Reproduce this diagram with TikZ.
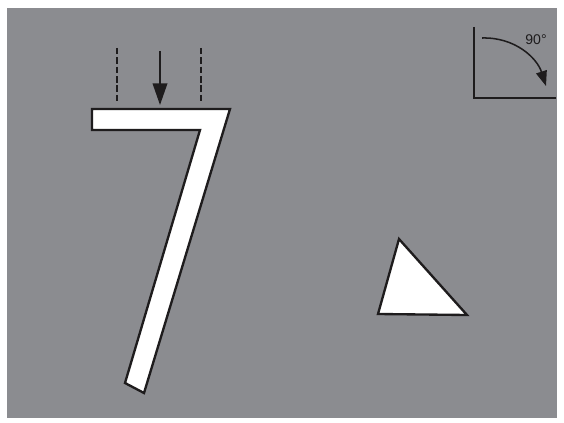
\documentclass[tikz,border=0pt]{standalone}
\usepackage{fontspec}
\setsansfont{Liberation Sans}
\usetikzlibrary{arrows.meta}
\definecolor{panelgray}{RGB}{139,140,144}
\definecolor{inkdark}{RGB}{30,28,29}

\begin{document}
\begin{tikzpicture}[x=0.03cm,y=-0.03cm,
  piece/.style={fill=white, draw=inkdark, line width=2pt, line join=miter},
  guide/.style={draw=inkdark, line width=1.3pt, dash pattern=on 5.5pt off 2.5pt},
  push/.style={-{Triangle[length=6.5mm,width=4.4mm]}, draw=inkdark, line width=1.4pt},
  axis/.style={draw=inkdark, line width=1.2pt},
  turn/.style={-{Triangle[length=4.5mm,width=3.3mm]}, draw=inkdark, line width=1.3pt}
]
\useasboundingbox (0,0) rectangle (564,423);
\fill[white] (0,0) rectangle (564,423);
\fill[panelgray] (7,8) rectangle (557,418);

% the seven
\draw[piece] (92,109) -- (230,109) -- (144,393) -- (125,383) -- (200,130)
  -- (92,130) -- cycle;

% load guides and arrow
\coordinate (gl1) at (117,48);
\coordinate (gl2) at (117,103);
\coordinate (gr1) at (201,48);
\coordinate (gr2) at (201,103);
\coordinate (ptop) at (160,51);
\coordinate (ptip) at (160,105);
\draw[guide] (gl1) -- (gl2);
\draw[guide] (gr1) -- (gr2);
\draw[push] (ptop) -- (ptip);

% the triangle
\draw[piece] (399,239) -- (467,315) -- (378,314) -- cycle;

% rotation icon
\coordinate (ax0) at (474,98);
\coordinate (axy) at (474,27);
\coordinate (axx) at (556,98);
\coordinate (rs) at (482,38);
\coordinate (re) at (546,86);
\draw[axis] (axy) -- (ax0) -- (axx);
\draw[turn] (rs) .. controls (515,37) and (537,58) .. (re);
\node[font=\sffamily\fontsize{12}{14}\selectfont, text=inkdark] (deg) at (536,40) {90°};
\end{tikzpicture}
\end{document}
